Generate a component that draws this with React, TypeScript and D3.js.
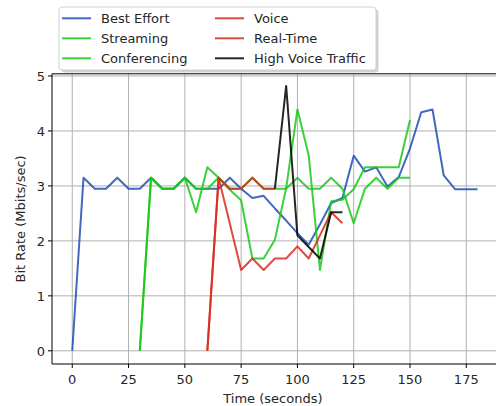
import React from "react";
import * as d3 from "d3";

const bestEffortT = [0,5,10,15,20,25,30,35,40,45,50,55,60,65,70,75,80,85,90,95,100,105,110,115,120,125,130,135,140,145,150,155,160,165,170,175,180];
const bestEffortV = [0,3.15,2.95,2.95,3.15,2.95,2.95,3.15,2.95,2.95,3.15,2.95,2.95,2.95,3.15,2.95,2.78,2.82,2.59,2.37,2.14,1.93,2.3,2.69,2.78,3.55,3.26,3.34,2.99,3.16,3.68,4.34,4.39,3.19,2.94,2.94,2.94];

const streamingT = [30,35,40,45,50,55,60,65,70,75,80,85,90,95,100,105,110,115,120,125,130,135,140,145,150];
const streamingV = [0,3.15,2.95,2.95,3.15,2.95,2.95,3.15,2.95,2.95,3.15,2.95,2.95,2.95,3.15,2.95,2.95,3.15,2.95,2.32,2.95,3.15,2.95,3.15,3.15];

const conferencingT = [30,35,40,45,50,55,60,65,70,75,80,85,90,95,100,105,110,115,120,125,130,135,140,145,150];
const conferencingV = [0,3.15,2.95,2.95,3.15,2.52,3.34,3.15,2.93,2.74,1.68,1.68,2.02,2.96,4.39,3.56,1.47,2.72,2.75,2.94,3.34,3.34,3.34,3.34,4.2];

const voiceT = [60,65,70,75,80,85,90];
const voiceV = [0,3.15,2.95,2.95,3.15,2.95,2.95];

const realTimeT = [60,65,70,75,80,85,90,95,100,105,110,115,120];
const realTimeV = [0,3.15,2.31,1.47,1.68,1.47,1.68,1.68,1.9,1.68,2.1,2.52,2.32];

const highVoiceT = [90,95,100,105,110,115,120];
const highVoiceV = [2.95,4.82,2.1,1.89,1.68,2.52,2.52];

const xTicks = [0,25,50,75,100,125,150,175];
const yTicks = [0,1,2,3,4,5];

const seriesNames = ["Best Effort","Streaming","Conferencing","Voice","Real-Time","High Voice Traffic"];
const seriesColors = ["#1f4fb4","#19c919","#19c919","#d92a1c","#d92a1c","#000000"];
const seriesT = [bestEffortT, streamingT, conferencingT, voiceT, realTimeT, highVoiceT];
const seriesV = [bestEffortV, streamingV, conferencingV, voiceV, realTimeV, highVoiceV];

const W = 496, H = 406;
const L = 52, R = 497.8, T = 73.8, B = 364;

export default function App() {
  const x = d3.scaleLinear().domain([-9, 189]).range([L, R]);
  const y = d3.scaleLinear().domain([-0.24, 5.04]).range([B, T]);
  const line = d3.line<[number, number]>().x(d => x(d[0])).y(d => y(d[1]));
  const font = "DejaVu Sans, sans-serif";
  const txt = "#262626";
  const fs = 13;
  return (
    <svg width={W} height={H} style={{ position: "absolute", left: 0, top: 0, background: "#fff" }} fontFamily={font}>
      <defs>
        <clipPath id="plot"><rect x={L} y={T} width={R - L} height={B - T} /></clipPath>
      </defs>
      {xTicks.map(t => (
        <line key={"gx" + t} x1={x(t)} x2={x(t)} y1={T} y2={B} stroke="#b0b0b0" strokeWidth={1} />
      ))}
      {yTicks.map(t => (
        <line key={"gy" + t} x1={L} x2={R} y1={y(t)} y2={y(t)} stroke="#b0b0b0" strokeWidth={1} />
      ))}
      <g clipPath="url(#plot)">
        {seriesT.map((ts, i) => (
          <path key={i} d={line(ts.map((t, j) => [t, seriesV[i][j]]) as [number, number][]) || ""}
            fill="none" stroke={seriesColors[i]} strokeOpacity={0.85} strokeWidth={2} strokeLinejoin="round" />
        ))}
      </g>
      <line x1={L} x2={L} y1={T} y2={B} stroke="#000" strokeWidth={1} />
      <line x1={L} x2={R} y1={B} y2={B} stroke="#000" strokeWidth={1} />
      <line x1={L} x2={R} y1={T} y2={T} stroke="#000" strokeWidth={1} />
      {xTicks.map(t => (
        <g key={"tx" + t}>
          <line x1={x(t)} x2={x(t)} y1={B} y2={B + 4} stroke="#000" />
          <text x={x(t)} y={B + 19.5} textAnchor="middle" fontSize={fs} fill={txt}>{t}</text>
        </g>
      ))}
      {yTicks.map(t => (
        <g key={"ty" + t}>
          <line x1={L - 4} x2={L} y1={y(t)} y2={y(t)} stroke="#000" />
          <text x={L - 7} y={y(t) + 4.7} textAnchor="end" fontSize={fs} fill={txt}>{t}</text>
        </g>
      ))}
      <text x={(L + 497.8) / 2 - 2} y={402.5} textAnchor="middle" fontSize={fs} fill={txt}>Time (seconds)</text>
      <text transform={`translate(25,${(T + B) / 2}) rotate(-90)`} textAnchor="middle" fontSize={fs} fill={txt}>Bit Rate (Mbits/sec)</text>
      <rect x={61.5} y={9.5} width={317} height={63} rx={3} fill="#999" fillOpacity={0.45} />
      <rect x={59} y={7} width={317} height={63} rx={3} fill="#fff" stroke="#d0d0d0" strokeWidth={1} />
      {seriesNames.map((n, i) => {
        const col = Math.floor(i / 3);
        const row = i % 3;
        const lx = col === 0 ? 62 : 215;
        const ly = 18.3 + row * 20;
        return (
          <g key={"lg" + i}>
            <line x1={lx} x2={lx + 29} y1={ly} y2={ly} stroke={seriesColors[i]} strokeOpacity={0.85} strokeWidth={2} />
            <text x={lx + 39} y={ly + 4.7} fontSize={fs} fill={txt}>{n}</text>
          </g>
        );
      })}
    </svg>
  );
}
